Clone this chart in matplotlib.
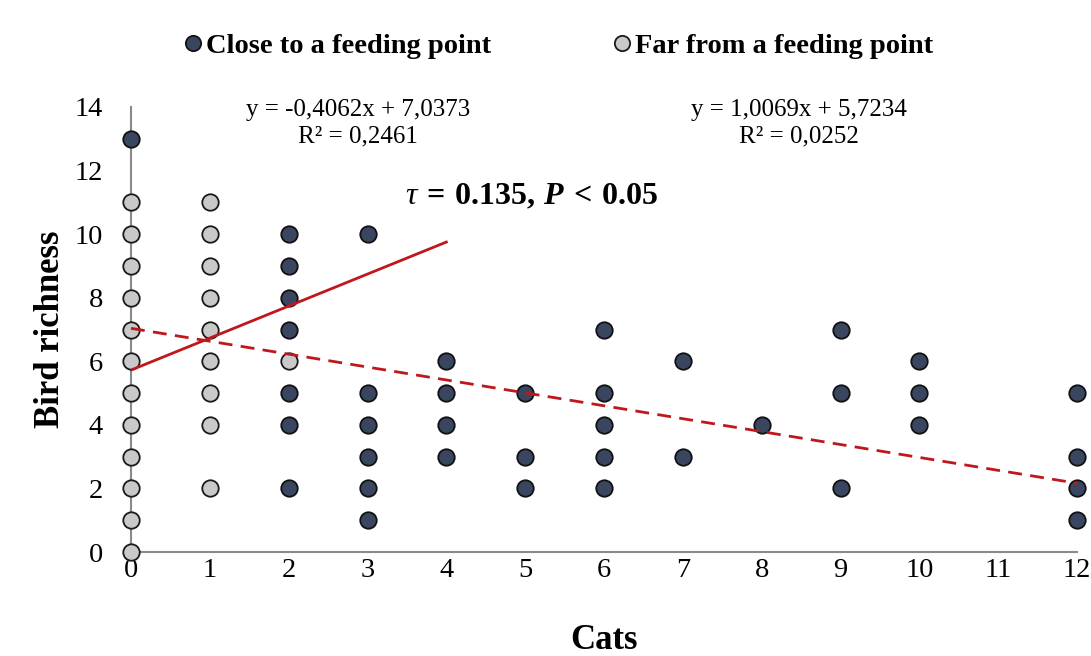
import matplotlib
matplotlib.use('Agg')
from matplotlib import pyplot as plt
from matplotlib.lines import Line2D

plt.rcParams['font.family'] = ['Liberation Serif', 'DejaVu Serif']
plt.rcParams['mathtext.fontset'] = 'custom'
plt.rcParams['mathtext.rm'] = 'Liberation Serif'
plt.rcParams['mathtext.it'] = 'Liberation Serif:italic'
plt.rcParams['mathtext.bf'] = 'Liberation Serif:bold'
plt.rcParams['mathtext.bfit'] = 'Liberation Serif:bold:italic'

# Close to a feeding point (dark)
close_x = [0, 2, 2, 2, 2, 2, 2, 2, 3, 3, 3, 3, 3, 3, 4, 4, 4, 4, 5, 5, 5,
           6, 6, 6, 6, 6, 7, 7, 8, 9, 9, 9, 10, 10, 10, 12, 12, 12, 12]
close_y = [13, 2, 4, 5, 7, 8, 9, 10, 1, 2, 3, 4, 5, 10, 3, 4, 5, 6, 2, 3, 5,
           2, 3, 4, 5, 7, 3, 6, 4, 2, 5, 7, 4, 5, 6, 1, 2, 3, 5]

# Far from a feeding point (light)
far_x = [0] * 12 + [1] * 9 + [2]
far_y = [0, 1, 2, 3, 4, 5, 6, 7, 8, 9, 10, 11,
         2, 4, 5, 6, 7, 8, 9, 10, 11,
         6]

# trendlines (Excel style)
solid_slope, solid_icpt, solid_x = 1.0069, 5.7234, [0, 4]
dash_slope, dash_icpt, dash_x = -0.4062, 7.0373, [0, 12]

dark = '#3a4660'
light = '#c9c9c9'
red = '#c0171c'

fig = plt.figure(figsize=(10.91, 6.56), dpi=100)
ax = fig.add_axes([131 / 1091, 1 - 552 / 656, 946 / 1091, 445 / 656])

ax.scatter(far_x, far_y, s=140, color=light, edgecolor='#1a1a1a',
           linewidth=1.3, zorder=3, clip_on=False)
ax.scatter(close_x, close_y, s=140, color=dark, edgecolor='#111111',
           linewidth=1.3, zorder=3, clip_on=False)

ax.plot(solid_x, [solid_slope * x + solid_icpt for x in solid_x],
        color=red, lw=2, zorder=4)
ax.plot(dash_x, [dash_slope * x + dash_icpt for x in dash_x],
        color=red, lw=2, ls=(0, (5, 3)), zorder=4, clip_on=False)

ax.set_xlim(0, 12)
ax.set_ylim(0, 14)
ax.set_xticks(range(0, 13))
ax.set_yticks(range(0, 15, 2))
ax.tick_params(length=0, labelsize=20.5)
ax.tick_params(axis='x', pad=4)
ax.tick_params(axis='y', pad=20)
for s in ['top', 'right']:
    ax.spines[s].set_visible(False)
for s in ['left', 'bottom']:
    ax.spines[s].set_color('#8a8a8a')
    ax.spines[s].set_linewidth(1.5)
    ax.spines[s].set_zorder(1)

ax.set_xlabel('Cats', fontsize=25, fontweight='bold', labelpad=30)
ax.set_ylabel('Bird richness', fontsize=25, fontweight='bold', labelpad=6)

ax.text(2.88, 13.49, 'y = -0,4062x + 7,0373\nR² = 0,2461', ha='center',
        va='center', fontsize=18, linespacing=1.3)
ax.text(8.47, 13.49, 'y = 1,0069x + 5,7234\nR² = 0,0252', ha='center',
        va='center', fontsize=18, linespacing=1.3)
ax.text(3.48, 11.16,
        r'$\tau\:\mathbf{=\:0.135,}\:\mathbfit{P}\:\mathbf{<\:0.05}$',
        ha='left', va='center', fontsize=23)

handles = [Line2D([], [], marker='o', ls='', markersize=11, markerfacecolor=dark,
                  markeredgecolor='#111111', markeredgewidth=1.3),
           Line2D([], [], marker='o', ls='', markersize=11, markerfacecolor=light,
                  markeredgecolor='#1a1a1a', markeredgewidth=1.3)]
fig.legend(handles, ['Close to a feeding point', 'Far from a feeding point'],
           loc='center', bbox_to_anchor=(559 / 1091, 1 - 46 / 656), ncol=2,
           frameon=False, handlelength=0.6, handletextpad=0.15,
           columnspacing=4.3, prop={'size': 20.5, 'weight': 'bold'})

fig.savefig('out.png', dpi=100)
